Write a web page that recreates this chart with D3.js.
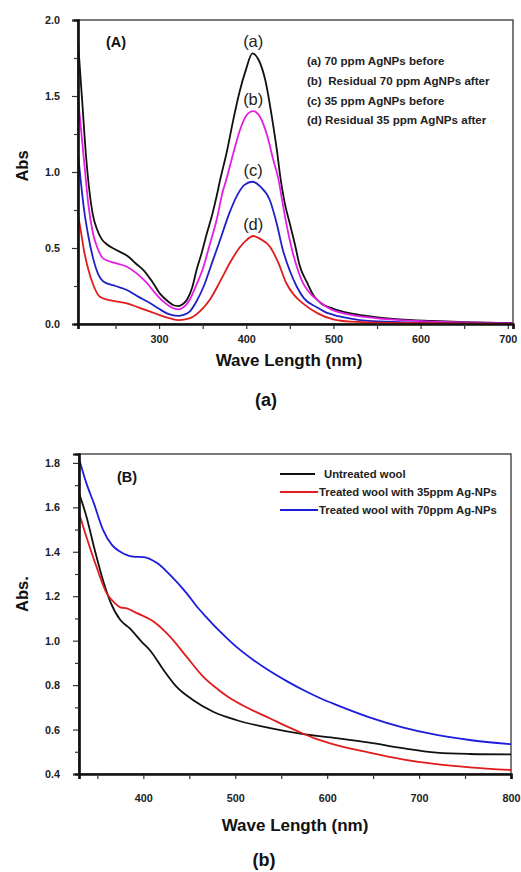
<!DOCTYPE html>
<html>
<head>
<meta charset="utf-8">
<script src="https://cdn.jsdelivr.net/npm/d3@7"></script>
<style>
  body { margin:0; background:#fff; }
  svg { display:block; font-family:"Liberation Sans", Arial, sans-serif; }
  .tick text { font-weight:bold; font-size:10.8px; fill:#222; }
</style>
</head>
<body>
<svg id="chart" width="521" height="872"></svg>
<script>
// ---- panel A data: [wavelength nm, Abs]
const curveA = [[207,1.86],[212,1.45],[216,1.12],[220,0.88],[224,0.72],[229,0.62],[234,0.56],[240,0.525],[250,0.49],
  [263,0.45],[275,0.39],[282,0.355],[292,0.28],[301,0.2],[310,0.15],[316,0.125],[322,0.118],[327,0.13],[332,0.16],
  [338,0.24],[343,0.355],[349,0.47],[355,0.6],[361,0.72],[366,0.84],[370,0.947],[378,1.14],[385,1.34],[392,1.52],
  [400,1.68],[407,1.78],[414,1.74],[422,1.6],[430,1.34],[435,1.15],[439,0.97],[444,0.8],[450,0.66],[456,0.52],
  [461,0.39],[470,0.27],[477,0.19],[485,0.14],[500,0.1],[520,0.07],[538,0.053],[576,0.03],[614,0.02],[652,0.012],
  [690,0.008],[706,0.006]];
const curveB = [[207,1.49],[211,1.25],[215,1.01],[219,0.78],[224,0.6],[230,0.49],[236,0.43],[250,0.4],[263,0.377],
  [275,0.33],[286,0.27],[296,0.2],[305,0.147],[314,0.11],[322,0.096],[328,0.11],[335,0.158],[343,0.26],[351,0.377],
  [358,0.52],[366,0.684],[373,0.87],[377,0.947],[385,1.12],[393,1.28],[400,1.37],[408,1.4],[416,1.36],[424,1.24],
  [431,1.08],[437,0.95],[441,0.82],[446,0.66],[452,0.5],[458,0.377],[465,0.27],[472,0.21],[481,0.16],[490,0.12],
  [500,0.09],[520,0.06],[538,0.045],[576,0.025],[614,0.016],[652,0.01],[706,0.005]];
const curveC = [[207,1.12],[210,0.95],[214,0.75],[219,0.574],[224,0.44],[230,0.33],[236,0.28],[250,0.25],[263,0.224],
  [276,0.18],[290,0.136],[300,0.1],[309,0.07],[315,0.058],[322,0.053],[328,0.06],[335,0.081],[343,0.15],[351,0.245],
  [360,0.39],[370,0.553],[380,0.72],[389,0.84],[398,0.915],[407,0.936],[416,0.905],[427,0.816],[435,0.66],[442,0.487],
  [450,0.35],[458,0.245],[466,0.17],[481,0.11],[490,0.08],[500,0.06],[520,0.035],[540,0.02],[576,0.012],[614,0.008],
  [706,0.004]];
const curveD = [[207,0.72],[210,0.62],[214,0.48],[219,0.355],[225,0.25],[232,0.18],[245,0.155],[263,0.136],[276,0.11],
  [290,0.081],[305,0.05],[315,0.033],[322,0.026],[330,0.03],[339,0.048],[348,0.09],[358,0.158],[370,0.28],[381,0.4],
  [392,0.5],[400,0.55],[408,0.579],[416,0.56],[427,0.51],[437,0.4],[446,0.268],[455,0.19],[465,0.136],[482,0.07],
  [500,0.03],[520,0.015],[560,0.008],[706,0.003]];
const seriesA = [curveA, curveB, curveC, curveD];
const colorsA = ["#111111", "#e41ee4", "#2020c8", "#e01c1c"];
const peakLabels = ["(a)", "(b)", "(c)", "(d)"];
const peakTops = [1.78, 1.40, 0.936, 0.579];
const legendA = ["(a) 70 ppm AgNPs before", "(b)  Residual 70 ppm AgNPs after", "(c) 35 ppm AgNPs before", "(d) Residual 35 ppm AgNPs after"];
const xTicksA = [300, 400, 500, 600, 700];
const xMinorA = [250, 350, 450, 550, 650];
const yTicksA = [0, 0.5, 1.0, 1.5, 2.0];
const yMinorA = [0.25, 0.75, 1.25, 1.75];

// ---- panel B data
const untreated = [[330,1.664],[338,1.56],[347,1.41],[356,1.273],[364,1.176],[375,1.093],[385,1.056],[398,0.996],
  [407,0.958],[422,0.868],[436,0.793],[454,0.733],[476,0.68],[501,0.643],[538,0.606],[574,0.579],[610,0.561],
  [646,0.541],[682,0.516],[719,0.496],[755,0.49],[800,0.488]];
const treated35 = [[330,1.574],[338,1.468],[349,1.333],[360,1.214],[369,1.169],[375,1.15],[382,1.145],[393,1.124],
  [411,1.086],[429,1.018],[447,0.928],[465,0.838],[483,0.775],[492,0.748],[501,0.725],[520,0.684],[538,0.65],
  [552,0.622],[567,0.594],[588,0.558],[610,0.53],[646,0.496],[682,0.466],[719,0.444],[755,0.43],[800,0.418]];
const treated70 = [[330,1.82],[338,1.709],[346,1.62],[356,1.5],[366,1.43],[375,1.4],[389,1.378],[400,1.376],[415,1.349],
  [429,1.296],[447,1.214],[458,1.155],[468,1.108],[476,1.072],[490,1.015],[501,0.973],[520,0.912],[538,0.862],
  [556,0.818],[574,0.778],[592,0.742],[610,0.711],[646,0.655],[682,0.61],[719,0.576],[755,0.553],[800,0.534]];
const seriesB = [untreated, treated35, treated70];
const colorsB = ["#111111", "#e01c1c", "#1c1cdc"];
const legendB = ["Untreated wool", "Treated wool with 35ppm Ag-NPs", "Treated wool with 70ppm Ag-NPs"];
const xTicksB = [400, 500, 600, 700, 800];
const xMinorB = [350, 450, 550, 650, 750];
const yTicksB = [0.4, 0.6, 0.8, 1.0, 1.2, 1.4, 1.6, 1.8];
const yMinorB = [0.5, 0.7, 0.9, 1.1, 1.3, 1.5, 1.7];

const svg = d3.select("#chart");

function drawPanel(p) {
  let g = svg.append("g");
  let x = d3.scaleLinear().domain(p.xDomain).range([p.left, p.right]);
  let y = d3.scaleLinear().domain(p.yDomain).range([p.bottom, p.top]);

  // frame
  g.append("rect")
    .attr("x", p.left).attr("y", p.top)
    .attr("width", p.right - p.left).attr("height", p.bottom - p.top)
    .attr("fill", "none").attr("stroke", "#333").attr("stroke-width", 1.3);

  let clipId = p.name + "_clip";
  g.append("clipPath").attr("id", clipId)
    .append("rect")
    .attr("x", p.left).attr("y", p.top)
    .attr("width", p.right - p.left).attr("height", p.bottom - p.top);

  let line = d3.line()
    .x(d => x(d[0]))
    .y(d => y(d[1]))
    .curve(d3.curveMonotoneX);

  g.append("g").attr("clip-path", "url(#" + clipId + ")")
    .selectAll("path")
    .data(p.series)
    .enter()
    .append("path")
    .attr("d", line)
    .attr("fill", "none")
    .attr("stroke", (d, i) => p.colors[i])
    .attr("stroke-width", 1.8);

  // axes
  let fmt = d3.format(".1f");
  g.append("g").attr("transform", "translate(0," + p.bottom + ")")
    .call(d3.axisBottom(x).tickValues(p.xTicks).tickSize(5).tickPadding(p.xPad).tickFormat(d3.format("d")));
  g.append("g").attr("transform", "translate(0," + p.bottom + ")")
    .call(d3.axisBottom(x).tickValues(p.xMinor).tickSize(5).tickFormat(""));
  g.append("g").attr("transform", "translate(" + p.left + ",0)")
    .call(d3.axisLeft(y).tickValues(p.yTicks).tickSize(6).tickPadding(p.yPad).tickFormat(fmt));
  g.append("g").attr("transform", "translate(" + p.left + ",0)")
    .call(d3.axisLeft(y).tickValues(p.yMinor).tickSize(4).tickFormat(""));
  g.selectAll(".domain").attr("stroke", "#111").attr("stroke-width", 2.2);
  g.selectAll(".tick line").attr("stroke", "#333").attr("stroke-width", 1.2);

  // axis titles
  g.append("text")
    .attr("transform", "translate(" + p.yTitleX + "," + p.yTitleY + ") rotate(-90)")
    .attr("text-anchor", "middle")
    .style("font-weight", "bold").style("font-size", "16.5px").attr("fill", "#111")
    .text(p.yTitle);
  g.append("text")
    .attr("x", p.xTitleX).attr("y", p.xTitleY)
    .attr("text-anchor", "middle")
    .style("font-weight", "bold").style("font-size", "17px").attr("fill", "#111")
    .text("Wave Length (nm)");
  g.append("text")
    .attr("x", p.tagX).attr("y", p.tagY)
    .style("font-weight", "bold").style("font-size", "14.5px").attr("fill", "#111")
    .text(p.tag);
  g.append("text")
    .attr("x", p.capX).attr("y", p.capY)
    .attr("text-anchor", "middle")
    .style("font-weight", "bold").style("font-size", "18px").attr("fill", "#111")
    .text(p.caption);

  return [g, x, y];
}

// ---- panel A
let [gA, xA, yA] = drawPanel({
  name: "pa", left: 78, right: 513, top: 20, bottom: 324,
  xDomain: [207, 706], yDomain: [0, 2.0],
  series: seriesA, colors: colorsA,
  xTicks: xTicksA, xMinor: xMinorA, yTicks: yTicksA, yMinor: yMinorA,
  xPad: 6, yPad: 12,
  yTitle: "Abs", yTitleX: 28, yTitleY: 166,
  xTitleX: 289, xTitleY: 366,
  tag: "(A)", tagX: 106, tagY: 47,
  caption: "(a)", capX: 266, capY: 406,
});

// peak labels above each peak
gA.selectAll(".peak")
  .data(peakLabels)
  .enter()
  .append("text")
  .attr("x", xA(408))
  .attr("y", (d, i) => yA(peakTops[i]) - 6)
  .attr("text-anchor", "middle")
  .style("font-size", "16.5px").attr("fill", "#222")
  .text(d => d);

gA.selectAll(".leg")
  .data(legendA)
  .enter()
  .append("text")
  .attr("x", 307)
  .attr("y", (d, i) => 65 + i * 19.8)
  .attr("xml:space", "preserve")
  .style("white-space", "pre")
  .style("font-weight", "bold").style("font-size", "11.6px").attr("fill", "#222")
  .text(d => d);

// ---- panel B
let [gB, xB, yB] = drawPanel({
  name: "pb", left: 79, right: 511, top: 454, bottom: 774,
  xDomain: [330, 800], yDomain: [0.4, 1.84],
  series: seriesB, colors: colorsB,
  xTicks: xTicksB, xMinor: xMinorB, yTicks: yTicksB, yMinor: yMinorB,
  xPad: 15.5, yPad: 13,
  yTitle: "Abs.", yTitleX: 28, yTitleY: 594,
  xTitleX: 295, xTitleY: 831,
  tag: "(B)", tagX: 117, tagY: 482,
  caption: "(b)", capX: 264, capY: 866,
});

let legB = gB.selectAll(".legb")
  .data(legendB)
  .enter()
  .append("g")
  .attr("transform", (d, i) => "translate(0," + (474 + i * 18) + ")");
legB.append("line")
  .attr("x1", 280).attr("x2", (d, i) => i == 0 ? 315 : 318)
  .attr("stroke", (d, i) => colorsB[i]).attr("stroke-width", 2);
legB.append("text")
  .attr("x", (d, i) => i == 0 ? 324 : 319)
  .attr("y", 4)
  .style("font-weight", "bold").style("font-size", "11.3px").attr("fill", "#222")
  .text(d => d);
</script>
</body>
</html>
